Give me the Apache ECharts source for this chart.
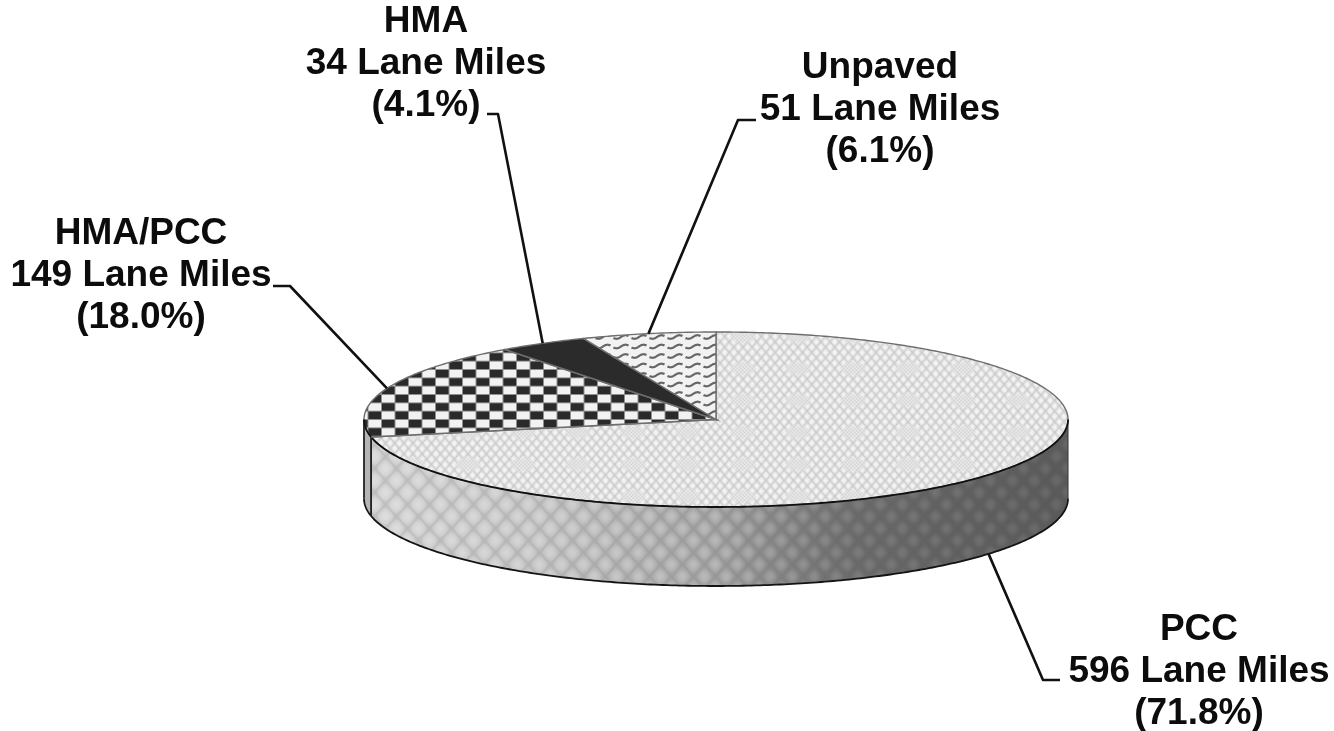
<!DOCTYPE html>
<html>
<head>
<meta charset="utf-8">
<title>Lane miles by pavement surface type</title>
<style>
  html, body { margin: 0; padding: 0; background: #fff; }
  #chart { width: 1334px; height: 731px; }
</style>
<script src="https://cdn.jsdelivr.net/npm/echarts@6/dist/echarts.min.js"></script>
</head>
<body>
<div id="chart"></div>
<script>
// Surface types, clockwise from twelve o'clock
const surfaces = ['PCC', 'HMA/PCC', 'HMA', 'Unpaved'];
const laneMiles = [596, 149, 34, 51];

// Disc geometry on the page
const disc = { cx: 716, cy: 419.5, rx: 352, ry: 87.5, depth: 79 };

// Label centres and the elbow each leader line bends at
const labelCentres = [[1199, 672], [141, 276], [426, 64], [880, 110]];
const leaderElbows = [
  [[1060, 680], [1043, 680]],
  [[273, 286], [290, 286]],
  [[487, 114], [498, 114]],
  [[756, 120], [738, 120]]
];

const total = laneMiles.reduce((a, b) => a + b, 0);
const TAU = Math.PI * 2;
const toAngle = v => echarts.number.linearMap(v, [0, total], [0, TAU]);

const running = [];
laneMiles.reduce((sum, v, i) => { running[i] = sum; return sum + v; }, 0);

const rimPoint = (a, drop) => [
  disc.cx + disc.rx * Math.sin(a),
  disc.cy - disc.ry * Math.cos(a) + (drop || 0)
];

function arc(a0, a1, drop) {
  const n = Math.max(2, Math.ceil(Math.abs(a1 - a0) / 0.012));
  const pts = [];
  for (let i = 0; i <= n; i++) pts.push(rimPoint(a0 + (a1 - a0) * i / n, drop));
  return pts;
}

function tile(w, h) {
  const c = document.createElement('canvas');
  c.width = w;
  c.height = h;
  return c;
}

// Woven lattice with small dotted patches for the large top face
function wovenTile() {
  const w = 55, h = 64, c = tile(w, h), g = c.getContext('2d');
  const img = g.createImageData(w, h);
  for (let y = 0; y < h; y++) {
    for (let x = 0; x < w; x++) {
      const m = Math.abs(Math.cos(TAU * x / (w / 6)) + Math.cos(TAU * y / (h / 6))) / 2;
      const weave = 200 + 46 * Math.pow(m, 0.6);
      const px = ((x % 55) - 27.5) / 14;
      const py = ((y % 32) - 16) / 8;
      const win = Math.max(0, 1 - Math.pow(px * px + py * py, 2));
      const dots = 224 + 14 * Math.cos(TAU * x / (w / 15)) * Math.cos(TAU * y / (h / 18));
      const v = weave * (1 - win) + dots * win;
      const k = (y * w + x) * 4;
      img.data[k] = img.data[k + 1] = img.data[k + 2] = v;
      img.data[k + 3] = 255;
    }
  }
  g.putImageData(img, 0, 0);
  return c;
}

// Translucent lozenges laid over the shaded wall of the disc
function wallTile() {
  const w = 44, h = 48, c = tile(w, h), g = c.getContext('2d');
  const img = g.createImageData(w, h);
  for (let y = 0; y < h; y++) {
    for (let x = 0; x < w; x++) {
      const m = Math.abs(Math.cos(TAU * x / (w / 2)) + Math.cos(TAU * y / (h / 2))) / 2;
      const s = Math.pow(m, 0.7) - 0.5;
      const k = (y * w + x) * 4;
      const v = s > 0 ? 255 : 0;
      img.data[k] = img.data[k + 1] = img.data[k + 2] = v;
      img.data[k + 3] = Math.abs(s) * (s > 0 ? 0.5 : 0.22) * 255;
    }
  }
  g.putImageData(img, 0, 0);
  return c;
}

// Checkerboard of wide dark and light cells
function checkTile() {
  const w = 27, h = 50, rowH = h / 6, c = tile(w, h), g = c.getContext('2d');
  g.fillStyle = '#f2f2f2';
  g.fillRect(0, 0, w, h);
  const cell = (x, y, col, inset) => {
    g.fillStyle = col;
    for (const ox of [-w, 0, w]) {
      for (const oy of [-h, 0, h]) {
        g.fillRect(x + ox + inset, y + oy + inset, 13.5 - inset * 2, rowH - inset * 2);
      }
    }
  };
  for (let i = 0; i < 6; i++) {
    const x = 3.5 + (i % 2 ? 13.5 : 0);
    const y = 19.5 + i * rowH;
    cell(x, y, '#8f8f8f', -0.5);
    cell(x, y, '#2a2a2a', 0.5);
  }
  return c;
}

// Rows of short, broken waves on a pale ground
function waveTile() {
  const w = 18, h = 19, c = tile(w, h), g = c.getContext('2d');
  g.fillStyle = '#f2f2f2';
  g.fillRect(0, 0, w, h);
  g.strokeStyle = '#666666';
  g.lineWidth = 2.2;
  for (const y0 of [4.5, 14]) {
    g.beginPath();
    for (let x = 1.5; x <= w - 1.5; x += 0.5) {
      const y = y0 + 1.8 * Math.sin(TAU * x / w);
      if (x === 1.5) g.moveTo(x, y); else g.lineTo(x, y);
    }
    g.stroke();
  }
  return c;
}

const fills = [
  { image: wovenTile(), repeat: 'repeat' },
  { image: checkTile(), repeat: 'repeat' },
  '#2b2b2b',
  { image: waveTile(), repeat: 'repeat' }
];
const wallOverlay = { image: wallTile(), repeat: 'repeat' };

const wallShade = {
  type: 'linear', global: true,
  x: disc.cx - disc.rx, y: 0, x2: disc.cx + disc.rx, y2: 0,
  colorStops: [
    { offset: 0, color: '#d4d4d4' },
    { offset: 0.25, color: '#c8c8c8' },
    { offset: 0.5, color: '#a8a8a8' },
    { offset: 0.65, color: '#7c7c7c' },
    { offset: 0.82, color: '#646464' },
    { offset: 1, color: '#5a5a5a' }
  ]
};

// Mutes the lozenges toward the dark end of the wall
const wallMute = {
  type: 'linear', global: true,
  x: disc.cx - disc.rx, y: 0, x2: disc.cx + disc.rx, y2: 0,
  colorStops: [
    { offset: 0, color: 'rgba(200,200,200,0)' },
    { offset: 0.5, color: 'rgba(150,150,150,0.15)' },
    { offset: 0.7, color: 'rgba(104,104,104,0.6)' },
    { offset: 1, color: 'rgba(92,92,92,0.7)' }
  ]
};

const poly = (points, fill, stroke, lineWidth) => ({
  type: 'polygon',
  shape: { points },
  style: { fill, stroke: stroke || null, lineWidth: lineWidth || 0 }
});
const line = (points, stroke, lineWidth) => ({
  type: 'polyline',
  shape: { points },
  style: { fill: null, stroke, lineWidth, lineJoin: 'round' }
});

function renderSlice(params, api) {
  const i = params.dataIndex;
  const value = api.value(0);
  const a0 = toAngle(running[i]);
  const a1 = toAngle(running[i] + value);
  const mid = (a0 + a1) / 2;
  const children = [];

  // Visible wall: only the front half of the disc shows
  const w0 = Math.max(a0, Math.PI / 2);
  const w1 = Math.min(a1, Math.PI * 1.5);
  if (w1 > w0) {
    const wall = arc(w0, w1, 0).concat(arc(w1, w0, disc.depth));
    children.push(poly(wall, i === 0 ? wallShade : '#b5b5b5'));
    if (i === 0) {
      children.push(poly(wall, wallOverlay));
      children.push(poly(wall, wallMute));
    }
    children.push(line(arc(w0, w1, disc.depth), '#141414', 1.8));
    children.push(line([rimPoint(w0, 0), rimPoint(w0, disc.depth)], i === 0 ? '#333' : '#222', i === 0 ? 1 : 1.8));
    children.push(line([rimPoint(w1, 0), rimPoint(w1, disc.depth)], '#222', 1.8));
  }

  // Top face
  const top = [[disc.cx, disc.cy]].concat(arc(a0, a1, 0));
  children.push(poly(top, fills[i], '#6e6e6e', 1.4));
  if (w1 > w0) children.push(line(arc(w0, w1, 0), '#101010', 1.8));

  // Leader from the text elbow to the slice's middle, on the rim or the wall below it
  const frontFacing = Math.cos(mid) < 0;
  const anchor = rimPoint(mid, frontFacing ? disc.depth : 0);
  children.push(line(leaderElbows[i].concat([anchor]), '#111', 2.6));

  // Three-line label
  const share = (value / total * 100).toFixed(1);
  children.push({
    type: 'text',
    x: labelCentres[i][0],
    y: labelCentres[i][1],
    style: {
      text: surfaces[i] + '\n' + value + ' Lane Miles\n(' + share + '%)',
      font: '700 37px "Liberation Sans", Arial, sans-serif',
      fill: '#0c0c0c',
      align: 'center',
      verticalAlign: 'middle',
      lineHeight: 42
    }
  });

  return { type: 'group', children };
}

const chart = echarts.init(document.getElementById('chart'), null, { renderer: 'canvas' });
chart.setOption({
  animation: false,
  backgroundColor: '#ffffff',
  series: [{
    type: 'custom',
    coordinateSystem: 'none',
    silent: true,
    renderItem: renderSlice,
    data: laneMiles.map(v => [v])
  }]
});
</script>
</body>
</html>
